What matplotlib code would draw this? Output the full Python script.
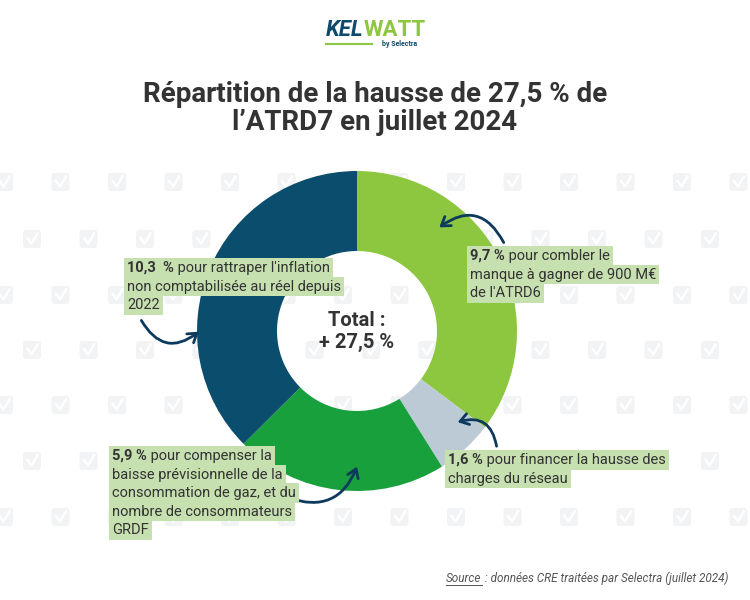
import matplotlib
matplotlib.use('Agg')
import matplotlib.pyplot as plt
from matplotlib.patches import FancyArrowPatch, FancyBboxPatch

# data
parts = [9.7, 1.6, 5.9, 10.3]
part_labels = ['9,7 %', '1,6 %', '5,9 %', '10,3  %']
colors = ['#8dc63f', '#bccad6', '#17a03c', '#0a4d6c']
label_text = [
    [' pour combler le', 'manque à gagner de 900 M€', "de l'ATRD6"],
    [' pour financer la hausse des', 'charges du réseau'],
    [' pour compenser la', 'baisse prévisionnelle de la', 'consommation de gaz, et du',
     'nombre de consommateurs', 'GRDF'],
    [" pour rattraper l'inflation", 'non comptabilisée au réel depuis', '2022'],
]
total_label = '+ 27,5 %'

W, H = 750, 600
DARK = '#333333'
NAVY = '#0d3a5c'
BOXC = '#c7e0b0'
FONT = 'Roboto'

fig = plt.figure(figsize=(7.5, 6), dpi=100)
fig.patch.set_facecolor('white')

# background watermark layer
bg = fig.add_axes([0, 0, 1, 1], zorder=0)
bg.set_xlim(0, W)
bg.set_ylim(H, 0)
bg.axis('off')
rows = [182, 239, 295, 350, 405, 461, 517]
for i, ry in enumerate(rows):
    off = 4 if i % 2 == 0 else 32
    x = off
    while x < W + 10:
        bg.add_patch(FancyBboxPatch((x - 9, ry - 9), 18, 18,
                                    boxstyle='round,pad=0,rounding_size=3',
                                    fc='#f1f3f5', ec='none'))
        bg.plot([x - 4.5, x - 0.5, x + 5.5], [ry - 1, ry + 4.5, ry - 5.5], color='white', lw=1.8)
        x += 56.5

# donut
cx, cy, R = 357, 331, 160
pie_ax = fig.add_axes([(cx - R) / W, (H - cy - R) / H, 2 * R / W, 2 * R / H], zorder=1)
pie_ax.pie(parts, colors=colors, startangle=90, counterclock=False, radius=1,
           wedgeprops=dict(width=0.5, edgecolor='none'))
pie_ax.set_xlim(-1, 1)
pie_ax.set_ylim(-1, 1)
pie_ax.set_aspect('equal')
pie_ax.axis('off')

# overlay layer for text and arrows
ov = fig.add_axes([0, 0, 1, 1], zorder=2)
ov.set_xlim(0, W)
ov.set_ylim(H, 0)
ov.axis('off')
ov.patch.set_alpha(0)

renderer = fig.canvas.get_renderer()

def px_width(t):
    bb = t.get_window_extent(renderer=renderer)
    return bb.width

# logo
k = ov.text(326, 30, 'KEL', fontsize=16, fontweight='bold', style='italic',
            color='#0d4a6b', family=FONT, va='center', ha='left')
kw = px_width(k)
ov.text(326 + kw, 30, 'WATT', fontsize=16, fontweight='bold',
        color='#8dc63f', family=FONT, va='center', ha='left')
ov.plot([326, 372], [44, 44], color='#8dc63f', lw=1.5)
ov.text(400, 44, 'by Selectra', fontsize=5, fontweight='bold', color='#0d4a6b',
        family=FONT, va='center', ha='center')

# title
ov.text(375, 94, 'Répartition de la hausse de 27,5 % de', fontsize=20, fontweight='bold',
        color=DARK, family=FONT, ha='center', va='center')
ov.text(375, 123, "l’ATRD7 en juillet 2024", fontsize=20, fontweight='bold',
        color=DARK, family=FONT, ha='center', va='center')

# centre text
ov.text(cx, 320, 'Total :', fontsize=14.5, fontweight='bold', color=DARK, family=FONT,
        ha='center', va='center')
ov.text(cx, 342, total_label, fontsize=14.5, fontweight='bold', color=DARK, family=FONT,
        ha='center', va='center')

# labels
label_pos = [(470, 256), (448, 460), (112, 456), (127, 268)]
LH = 18.5
FS = 10.5
for (lx, ly), pl, lines in zip(label_pos, part_labels, label_text):
    box = dict(boxstyle='square,pad=0.2', fc=BOXC, ec='none')
    b = ov.text(lx, ly, pl, fontsize=FS, fontweight='bold', color=DARK, family=FONT,
                ha='left', va='center', bbox=box, zorder=4)
    bw = px_width(b)
    ov.text(lx + bw, ly, lines[0], fontsize=FS, color=DARK, family=FONT,
            ha='left', va='center', bbox=box, zorder=3)
    for j, ln in enumerate(lines[1:], start=1):
        ov.text(lx, ly + j * LH, ln, fontsize=FS, color=DARK, family=FONT,
                ha='left', va='center', bbox=box, zorder=3)

# arrows
arrows = [((505, 245), (437, 229), 0.6),
          ((497, 449), (455, 423), 0.6),
          ((286, 497), (358, 464), 0.5),
          ((140, 318), (201, 330), 0.6)]
for a, b, r in arrows:
    ov.add_patch(FancyArrowPatch(a, b, connectionstyle=f'arc3,rad={r}',
                                 arrowstyle='->,head_length=6,head_width=4',
                                 color=NAVY, lw=2, mutation_scale=1, zorder=2))

# source
s2 = ov.text(728, 578, ' : données CRE traitées par Selectra (juillet 2024)', fontsize=8.5,
             style='italic', color='#555555', family=FONT, ha='right', va='center')
w2 = px_width(s2)
s1 = ov.text(728 - w2, 578, 'Source', fontsize=8.5, style='italic', color='#555555',
             family=FONT, ha='right', va='center')
w1 = px_width(s1)
ov.plot([728 - w2 - w1, 728 - w2], [585, 585], color='#555555', lw=0.7)

fig.savefig('out.png', dpi=100)
